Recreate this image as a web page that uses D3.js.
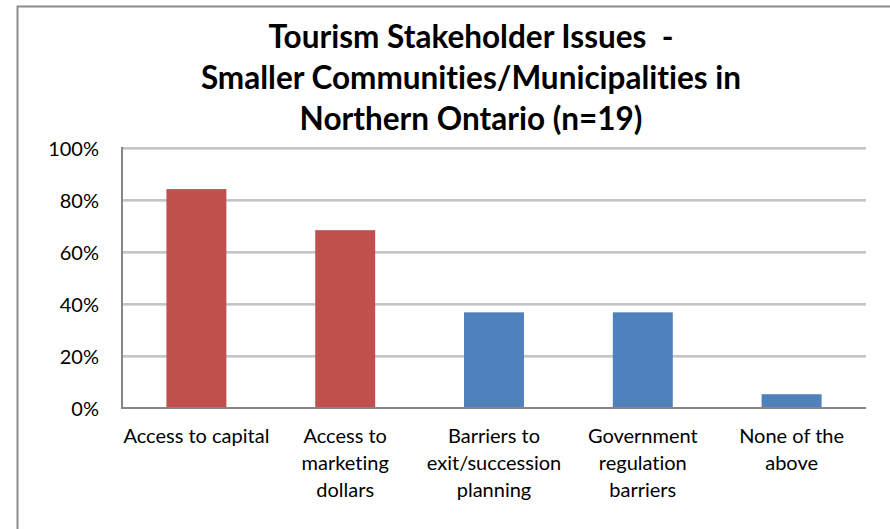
<!DOCTYPE html>
<html>
<head>
<meta charset="utf-8">
<script src="https://cdn.jsdelivr.net/npm/d3@7"></script>
<style>
  html, body { margin: 0; padding: 0; background: #fff; }
  svg { display: block; }
  text { font-variant-ligatures: none; font-feature-settings: "liga" 0; }
</style>
</head>
<body>
<svg id="chart" width="890" height="529"></svg>
<script>
// Survey results, share of respondents (n=19)
const categories = [
  "Access to capital",
  "Access to marketing dollars",
  "Barriers to exit/succession planning",
  "Government regulation barriers",
  "None of the above"
];
const categoryLines = [
  ["Access to capital"],
  ["Access to", "marketing", "dollars"],
  ["Barriers to", "exit/succession", "planning"],
  ["Government", "regulation", "barriers"],
  ["None of the", "above"]
];
const values = [0.842, 0.684, 0.368, 0.368, 0.053];
const barColors = ["#C0504D", "#C0504D", "#4F81BD", "#4F81BD", "#4F81BD"];
const yTicks = [0, 0.2, 0.4, 0.6, 0.8, 1.0];
const titleLines = [
  "Tourism Stakeholder Issues  -",
  "Smaller Communities/Municipalities in",
  "Northern Ontario (n=19)"
];

const svg = d3.select("#chart");
const font = "Lato, 'Open Sans', sans-serif";

// Outer chart frame
svg.append("path")
  .attr("d", "M17.5,540 L17.5,6.5 L900,6.5")
  .attr("fill", "none")
  .attr("stroke", "#8c8c8c")
  .attr("stroke-width", 2);

const plot = { left: 122, right: 866, top: 148, bottom: 408 };

const x = d3.scaleBand()
  .domain(categories)
  .range([plot.left, plot.right])
  .paddingInner(0.597)
  .paddingOuter(0.2985);

const y = d3.scaleLinear()
  .domain([0, 1])
  .range([plot.bottom, plot.top]);

// Gridlines (with a faint shadow below each)
const grid = svg.append("g");
grid.selectAll("line.shadow")
  .data(yTicks.filter(d => d > 0))
  .join("line")
  .attr("class", "shadow")
  .attr("x1", plot.left).attr("x2", plot.right)
  .attr("y1", d => y(d) + 1.5).attr("y2", d => y(d) + 1.5)
  .attr("stroke", "#d9d9d9").attr("stroke-width", 1);
grid.selectAll("line.grid")
  .data(yTicks.filter(d => d > 0))
  .join("line")
  .attr("class", "grid")
  .attr("x1", plot.left).attr("x2", plot.right)
  .attr("y1", d => y(d)).attr("y2", d => y(d))
  .attr("stroke", "#8c8c8c").attr("stroke-width", 1.2);

// Bars
svg.append("g").selectAll("rect")
  .data(values)
  .join("rect")
  .attr("x", (d, i) => x(categories[i]))
  .attr("width", x.bandwidth())
  .attr("y", d => y(d))
  .attr("height", d => y(0) - y(d))
  .attr("fill", (d, i) => barColors[i]);

// Axis lines
svg.append("line")
  .attr("x1", plot.left).attr("x2", plot.left)
  .attr("y1", plot.top - 1).attr("y2", plot.bottom + 1)
  .attr("stroke", "#868686").attr("stroke-width", 2);
svg.append("line")
  .attr("x1", plot.left).attr("x2", plot.right)
  .attr("y1", plot.bottom).attr("y2", plot.bottom)
  .attr("stroke", "#868686").attr("stroke-width", 2);

// Y tick labels
const yAxis = d3.axisLeft(y)
  .tickValues(yTicks)
  .tickFormat(d3.format(".0%"))
  .tickSize(0)
  .tickPadding(23);
const yg = svg.append("g")
  .attr("transform", `translate(${plot.left},0)`)
  .call(yAxis);
yg.select(".domain").remove();
yg.selectAll("text")
  .attr("font-family", font)
  .attr("font-size", 20)
  .attr("fill", "#000")
  .attr("dy", "0.35em");

// Category labels
const xg = svg.append("g");
categories.forEach((c, i) => {
  const cx = x(c) + x.bandwidth() / 2;
  const t = xg.append("text")
    .attr("x", cx)
    .attr("y", 443)
    .attr("text-anchor", "middle")
    .attr("font-family", font)
    .attr("font-size", 20)
    .attr("fill", "#000");
  categoryLines[i].forEach((line, j) => {
    t.append("tspan")
      .attr("x", cx)
      .attr("y", 443 + j * 27)
      .text(line);
  });
});

// Title
const title = svg.append("text")
  .attr("text-anchor", "middle")
  .attr("font-family", font)
  .attr("font-weight", "bold")
  .attr("font-size", 31.5)
  .attr("fill", "#000");
titleLines.forEach((line, j) => {
  title.append("tspan")
    .attr("x", 471)
    .attr("y", 48 + j * 41)
    .attr("xml:space", "preserve")
    .style("white-space", "pre")
    .text(line);
});
</script>
</body>
</html>
